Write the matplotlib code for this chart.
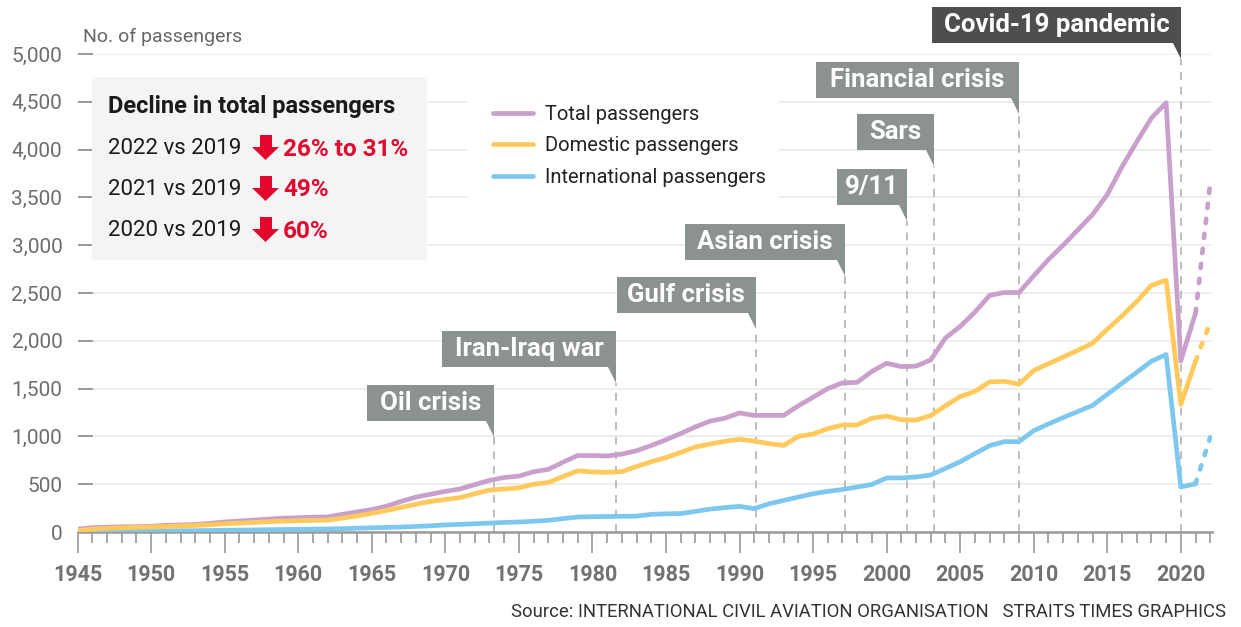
import matplotlib
matplotlib.use('Agg')
import matplotlib.pyplot as plt
from matplotlib.patches import Rectangle, Polygon
from matplotlib.ticker import MultipleLocator, FuncFormatter

plt.rcParams['font.family'] = ['Roboto', 'DejaVu Sans']

# --- data (million passengers) ---
years = list(range(1945, 2022))
total = [30, 45, 50, 55, 55,
         60, 70, 73, 78, 90, 105, 115, 125, 135, 145,
         150, 155, 158, 185, 210, 235, 270, 320, 365, 395,
         425, 450, 495, 540, 570, 585, 630, 655, 730, 800,
         800, 795, 815, 850, 905, 965, 1030, 1100, 1160, 1190,
         1245, 1220, 1220, 1220, 1320, 1410, 1500, 1560, 1565, 1680,
         1765, 1730, 1735, 1800, 2030, 2150, 2300, 2475, 2505, 2505,
         2680, 2850, 3000, 3160, 3320, 3530, 3820, 4080, 4330, 4490,
         1790, 2290]
domestic = [15, 30, 38, 44, 48,
            52, 58, 63, 68, 76, 86, 93, 100, 108, 114,
            118, 121, 124, 145, 168, 195, 225, 258, 290, 320,
            340, 360, 400, 438, 450, 462, 500, 518, 580, 640,
            628, 624, 632, 685, 735, 778, 832, 890, 920, 948,
            970, 950, 925, 905, 1000, 1025, 1080, 1118, 1120, 1190,
            1212, 1175, 1170, 1218, 1320, 1416, 1470, 1570, 1576, 1546,
            1689, 1760, 1830, 1900, 1975, 2120, 2260, 2410, 2580, 2634,
            1336, 1786]
international = [5, 7, 8, 9, 10,
                 11, 12, 13, 14, 16, 18, 20, 22, 24, 26,
                 28, 30, 32, 35, 40, 44, 48, 52, 58, 65,
                 74, 80, 86, 93, 100, 105, 112, 122, 140, 157,
                 160, 162, 164, 166, 185, 190, 193, 215, 240, 255,
                 268, 245, 295, 330, 365, 400, 425, 445, 470, 497,
                 566, 566, 575, 597, 665, 735, 820, 903, 945, 945,
                 1060, 1130, 1197, 1260, 1324, 1440, 1555, 1670, 1786, 1857,
                 471, 504]

# 2022 forecast (dotted)
proj_years = [2021, 2022]
total_2022 = 3650
domestic_2022 = 2190
international_2022 = 990

event_labels = ['Oil crisis', 'Iran-Iraq war', 'Gulf crisis', 'Asian crisis',
                '9/11', 'Sars', 'Financial crisis', 'Covid-19 pandemic']
event_years = [1973.3, 1981.6, 1991.1, 1997.2, 2001.4, 2003.2, 2009.0, 2020.0]

decline_rows = ['2022 vs 2019', '2021 vs 2019', '2020 vs 2019']
decline_vals = ['26% to 31%', '49%', '60%']

# --- layout of the callout boxes (left edge in years, bottom/top in passengers) ---
box_left = [1964.66, 1969.76, 1981.64, 1986.26, 1996.66, 1998.02, 1995.17, 2003.11]
box_bottom = [1161, 1726, 2291, 2845, 3420, 3996, 4540, 5115]
box_h = 380

c_total = '#c9a0cc'
c_dom = '#ffc95c'
c_int = '#7ec8ef'
red = '#e3062d'
W, H = 1241, 627


def fx(x):
    return x / W


def fy(y):
    return 1 - y / H


fig = plt.figure(figsize=(W / 100, H / 100), dpi=100)
ax = fig.add_axes([fx(77.6), fy(532), (1211.7 - 77.6) / W, (532 - 54) / H])
ax.set_xlim(1945, 2022.1)
ax.set_ylim(0, 5000)

for s in ['top', 'right', 'left']:
    ax.spines[s].set_visible(False)
ax.spines['bottom'].set_color('#9a9a9a')
ax.spines['bottom'].set_linewidth(1.8)

ax.xaxis.set_major_locator(MultipleLocator(5))
ax.xaxis.set_minor_locator(MultipleLocator(1))
ax.set_xticks(range(1945, 2021, 5))
ax.tick_params(axis='x', which='major', length=15, width=1.2, color='#9a9a9a',
               pad=8, labelsize=15.5, labelcolor='#727272')
ax.tick_params(axis='x', which='minor', length=8, width=1.2, color='#9a9a9a')
for lab in ax.get_xticklabels():
    lab.set_fontweight('bold')

ax.yaxis.set_major_locator(MultipleLocator(500))
ax.yaxis.set_major_formatter(FuncFormatter(lambda v, p: f'{v:,.0f}'))
ax.tick_params(axis='y', direction='in', length=11, width=1.2, color='#8a8a8a',
               pad=11, labelsize=15, labelcolor='#6d6d6d')
ax.grid(axis='y', color='#e8e8e8', linewidth=1.1, zorder=0)
ax.set_axisbelow(True)

# event markers
for lab, yr, left, bot in zip(event_labels, event_years, box_left, box_bottom):
    fc = '#4e4e4e' if lab.startswith('Covid') else '#8b928f'
    ax.add_patch(Rectangle((left, bot), yr - left, box_h, fc=fc, ec='none',
                           clip_on=False, zorder=4))
    ax.add_patch(Polygon([(yr - 0.55, bot), (yr, bot), (yr, bot - 170)],
                         closed=True, fc=fc, ec='none', clip_on=False, zorder=4))
    ax.plot([yr, yr], [0, bot - 170], color='#bdbdbd', lw=1.4,
            linestyle=(0, (4, 3.5)), zorder=1.6, clip_on=False)
    ax.text((left + yr) / 2, bot + box_h / 2, lab, ha='center', va='center',
            color='white', fontsize=18.5, fontweight='bold', zorder=5, clip_on=False)

# data lines
lw = 3.4
kw = dict(solid_capstyle='round', solid_joinstyle='round', zorder=3)
l_tot, = ax.plot(years, total, color=c_total, lw=lw, label='Total passengers', **kw)
l_int, = ax.plot(years, international, color=c_int, lw=lw, label='International passengers', **kw)
l_dom, = ax.plot(years, domestic, color=c_dom, lw=lw, label='Domestic passengers', **kw)

dot = dict(lw=lw, linestyle=(0, (0.9, 2.3)), dash_capstyle='round', zorder=3)
ax.plot(proj_years, [total[-1], total_2022], color=c_total, **dot)
ax.plot(proj_years, [domestic[-1], domestic_2022], color=c_dom, **dot)
ax.plot(proj_years, [international[-1], international_2022], color=c_int, **dot)

# legend on a white patch that hides the gridlines
ax.add_patch(Rectangle((fx(468), fy(222)), fx(779) - fx(468), fy(86) - fy(222),
                       transform=fig.transFigure, fc='white', ec='none', zorder=1.8))
leg = ax.legend(handles=[l_tot, l_dom, l_int], loc='upper left',
                bbox_to_anchor=(fx(493), fy(105)), bbox_transform=fig.transFigure,
                frameon=False, fontsize=14.5, handlelength=2.0, handletextpad=0.6,
                labelspacing=0.62, borderpad=0, borderaxespad=0)
for t in leg.get_texts():
    t.set_color('#222222')
leg.set_zorder(6)

# info box
fig.add_artist(Rectangle((fx(92), fy(260)), fx(427) - fx(92), fy(77) - fy(260),
                         transform=fig.transFigure, fc='#f3f4f4', ec='none', zorder=1))
fig.text(fx(108), fy(106), 'Decline in total passengers', fontsize=17,
         fontweight='bold', color='#1a1a1a', va='center')
row_y = [149, 190, 231]
for label, val, cy in zip(decline_rows, decline_vals, row_y):
    fig.text(fx(108), fy(cy), label, fontsize=16, color='#1a1a1a', va='center')
    top, head, tip = cy - 14, cy - 2, cy + 11
    pts = [(260, top), (272, top), (272, head), (279, head), (265.5, tip),
           (252, head), (260, head)]
    fig.add_artist(Polygon([(fx(x), fy(y)) for x, y in pts], closed=True,
                           transform=fig.transFigure, fc=red, ec='none', zorder=2))
    fig.text(fx(283), fy(cy), val, fontsize=17.5, fontweight='bold', color=red,
             va='center')

fig.text(fx(83), fy(37), 'No. of passengers', fontsize=14, color='#666666', va='center')
fig.text(fx(1226), fy(612),
         'Source: INTERNATIONAL CIVIL AVIATION ORGANISATION   STRAITS TIMES GRAPHICS',
         fontsize=13.3, color='#333333', ha='right', va='center')

fig.savefig('out.png', dpi=100)
